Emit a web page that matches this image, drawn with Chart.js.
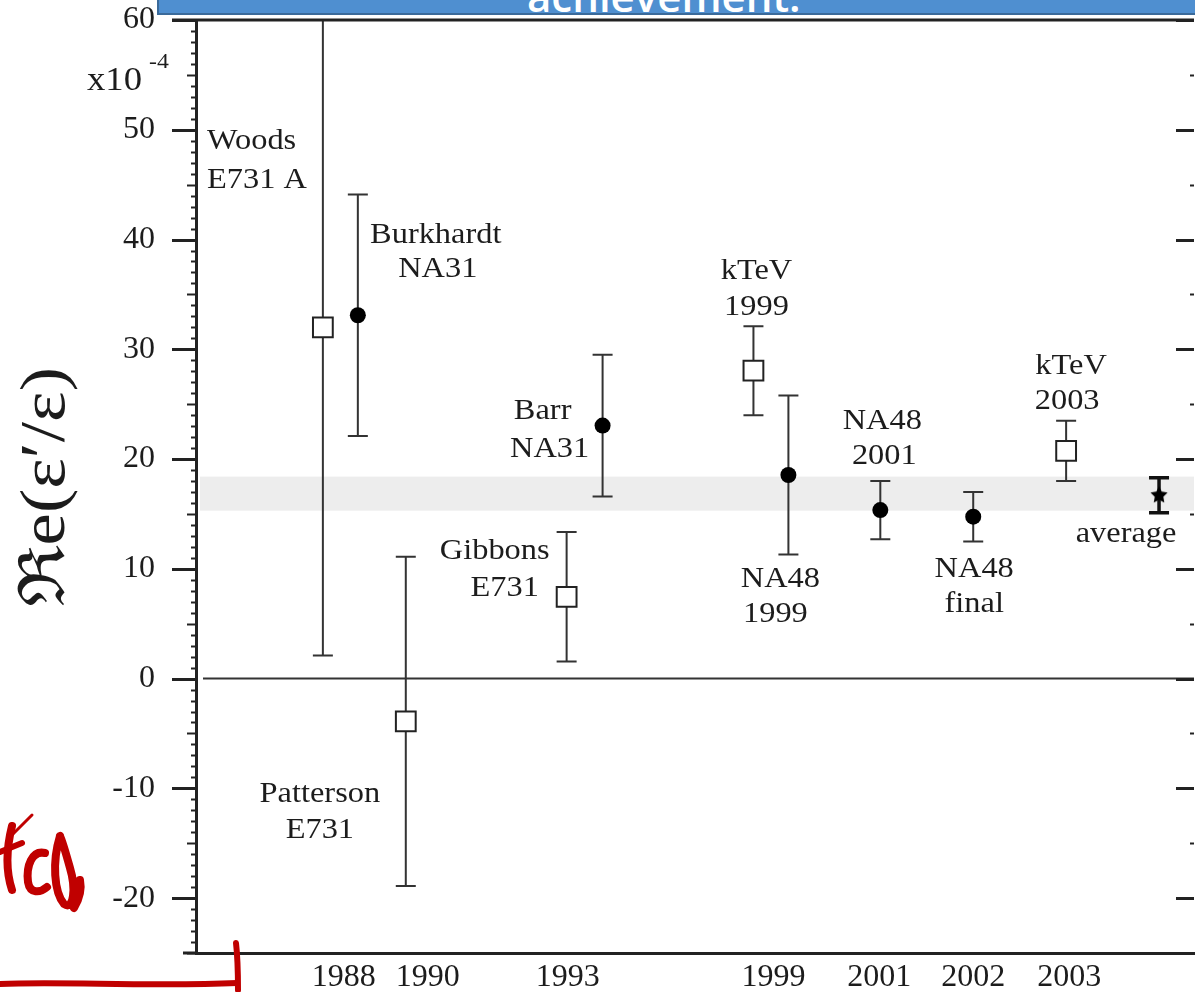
<!DOCTYPE html>
<html>
<head>
<meta charset="utf-8">
<script src="https://cdn.jsdelivr.net/npm/chart.js@4.4.0/dist/chart.umd.min.js"></script>
<style>
  html, body { margin: 0; padding: 0; background: #fff; overflow: hidden; }
  #wrap { position: relative; width: 1195px; height: 992px; overflow: hidden; }
  #chart { display: block; }
  #banner {
    position: absolute; left: 157px; top: -3px; width: 1050px; height: 18px;
    background: #4f8fd0; border: 2px solid #3a6a9a; box-sizing: border-box; overflow: hidden;
  }
  #banner span {
    position: absolute; left: 368px; top: -24px; white-space: nowrap;
    font: 600 42px/42px "Open Sans", sans-serif; color: #fff;
  }
  #ink { position: absolute; left: 0; top: 0; pointer-events: none; }
</style>
</head>
<body>
<div id="wrap">
  <canvas id="chart" width="1210" height="992"></canvas>
  <div id="banner"><span>achievement.</span></div>
  <svg id="ink" width="1195" height="992">
    <g fill="none" stroke="#c00000" stroke-linecap="round" stroke-linejoin="round">
      <path d="M0,984 C60,981 150,987 237,983" stroke-width="6"/>
      <path d="M236,943 C238,960 238,975 238,990" stroke-width="6"/>
      <path d="M32,815 L13,834" stroke-width="3"/>
      <path d="M12,826 C6,850 6,872 12,890" stroke-width="8"/>
      <path d="M0,852 L22,843" stroke-width="6"/>
      <path d="M45,853 C32,850 26,866 28,882 C30,894 40,893 47,887" stroke-width="8"/>
      <path d="M60,836 C52,862 54,892 64,904 C74,911 76,888 70,868 C65,850 62,840 60,836 M74,908 C80,898 82,890 80,880" stroke-width="8"/>
    </g>
  </svg>
</div>
<script>
// measurements, Re(eps'/eps) in units of 1e-4
const names   = ['Woods', 'Burkhardt', 'Patterson', 'Gibbons', 'Barr', 'kTeV', 'NA48', 'NA48', 'NA48', 'kTeV', 'average'];
const subs    = ['E731 A', 'NA31', 'E731', 'E731', 'NA31', '1999', '1999', '2001', 'final', '2003', ''];
const xSlot   = [12.7, 16.2, 21.0, 37.1, 40.7, 55.8, 59.3, 68.5, 77.8, 87.1, 96.4];
const values  = [32.0, 33.1, -3.9, 7.45, 23.05, 28.05, 18.55, 15.35, 14.75, 20.75, 16.7];
const errors  = [29.9, 11.0, 15.0, 5.9, 6.45, 4.05, 7.25, 2.65, 2.25, 2.75, 1.6];
const kinds   = ['open', 'filled', 'open', 'open', 'filled', 'open', 'filled', 'filled', 'filled', 'open', 'star'];

// x axis year labels and where they sit
const yearLabels = ['1988', '1990', '1993', '1999', '2001', '2002', '2003'];
const yearSlots  = [14.8, 23.2, 37.2, 57.8, 68.4, 77.8, 87.4];
const yTicks = [-20, -10, 0, 10, 20, 30, 40, 50, 60];

// world average band
const bandLow = 15.3;
const bandHigh = 18.4;

// where the name labels go (plot units): [x1, y1, x2, y2, align]
const labelPos = [
  [1.1, 49.0, 1.1, 45.4, 'left'],
  [24.0, 40.4, 24.2, 37.3, 'center'],
  [12.4, -10.5, 12.4, -13.8, 'center'],
  [29.9, 11.6, 30.9, 8.2, 'center'],
  [34.7, 24.4, 35.4, 20.9, 'center'],
  [56.1, 37.1, 56.1, 33.8, 'center'],
  [58.5, 9.1, 58.0, 5.9, 'center'],
  [68.7, 23.5, 68.9, 20.3, 'center'],
  [77.9, 10.0, 77.9, 6.8, 'center'],
  [87.6, 28.5, 87.2, 25.3, 'center'],
  [93.1, 13.2, 0, 0, 'center']
];

const serif = '"Liberation Serif", "Times New Roman", "DejaVu Serif", serif';
const ink = '#1c1c1c';

function pick(kind) {
  return xSlot.map((x, i) => kinds[i] === kind ? { x: x, y: values[i] } : null).filter(Boolean);
}

function starImage(r) {
  const c = document.createElement('canvas');
  c.width = c.height = 2 * r + 2;
  const g = c.getContext('2d');
  g.fillStyle = '#000';
  g.beginPath();
  for (let k = 0; k < 10; k++) {
    const rr = k % 2 ? r * 0.5 : r;
    const a = -Math.PI / 2 + k * Math.PI / 5;
    g.lineTo(r + 1 + rr * Math.cos(a), r + 1 + rr * Math.sin(a));
  }
  g.closePath();
  g.fill();
  return c;
}

function wideText(ctx, str, px, py, align) {
  ctx.save();
  ctx.translate(px, py);
  ctx.scale(1.08, 1);
  ctx.textAlign = align;
  ctx.fillText(str, 0, 0);
  ctx.restore();
}

// drop the extra room chart.js reserves for end labels
function noPad(s) {
  s.paddingTop = 0; s.paddingBottom = 0; s.paddingLeft = 0; s.paddingRight = 0;
}

const decor = {
  id: 'decor',
  beforeDatasetsDraw(chart) {
    const { ctx, chartArea: a, scales: { x, y } } = chart;
    ctx.save();
    // grey band
    const b1 = y.getPixelForValue(bandHigh), b2 = y.getPixelForValue(bandLow);
    ctx.fillStyle = '#ededed';
    ctx.fillRect(a.left + 4, b1, a.right - a.left - 4, b2 - b1);
    // zero line
    const y0 = y.getPixelForValue(0);
    ctx.strokeStyle = '#333';
    ctx.lineWidth = 2;
    ctx.beginPath();
    ctx.moveTo(a.left + 7, y0);
    ctx.lineTo(a.right, y0);
    ctx.stroke();
    // error bars
    ctx.beginPath();
    ctx.rect(a.left, a.top, a.width, a.height);
    ctx.clip();
    xSlot.forEach((xs, i) => {
      const px = x.getPixelForValue(xs);
      const top = y.getPixelForValue(values[i] + errors[i]);
      const bot = y.getPixelForValue(values[i] - errors[i]);
      const avg = kinds[i] === 'star';
      const cap = 10;
      ctx.strokeStyle = avg ? '#111' : '#333';
      ctx.lineWidth = avg ? 3.5 : 2;
      ctx.beginPath();
      ctx.moveTo(px, top); ctx.lineTo(px, bot);
      ctx.moveTo(px - cap, top); ctx.lineTo(px + cap, top);
      ctx.moveTo(px - cap, bot); ctx.lineTo(px + cap, bot);
      ctx.stroke();
    });
    ctx.restore();
  },
  afterDraw(chart) {
    const { ctx, chartArea: a, scales: { x, y } } = chart;
    ctx.save();
    ctx.strokeStyle = '#222';
    // left ticks (every unit), right ticks (every 5)
    for (let v = -25; v <= 60; v++) {
      const py = Math.round(y.getPixelForValue(v)) + 0.5;
      const len = v % 10 === 0 ? 24 : (v % 5 === 0 ? 9 : 5);
      ctx.lineWidth = v % 10 === 0 ? 3 : 2;
      ctx.beginPath();
      ctx.moveTo(a.left - len, py);
      ctx.lineTo(a.left, py);
      ctx.stroke();
      if (v % 5 === 0) {
        const rl = v % 10 === 0 ? 18 : 4;
        ctx.beginPath();
        ctx.moveTo(a.right - rl, py);
        ctx.lineTo(a.right, py);
        ctx.stroke();
      }
    }
    // top frame line
    ctx.lineWidth = 3;
    ctx.beginPath();
    ctx.moveTo(a.left - 24, a.top);
    ctx.lineTo(a.right, a.top);
    ctx.stroke();
    // bottom line reaches a bit left
    ctx.beginPath();
    ctx.moveTo(a.left - 13, a.bottom);
    ctx.lineTo(a.left, a.bottom);
    ctx.stroke();

    // names
    ctx.fillStyle = ink;
    ctx.font = '30px ' + serif;
    ctx.textBaseline = 'middle';
    labelPos.forEach((p, i) => {
      wideText(ctx, names[i], x.getPixelForValue(p[0]), y.getPixelForValue(p[1]), p[4]);
      if (subs[i]) wideText(ctx, subs[i], x.getPixelForValue(p[2]), y.getPixelForValue(p[3]), p[4]);
    });

    // exponent note
    ctx.font = '34px ' + serif;
    wideText(ctx, 'x10', 87, 81, 'left');
    ctx.font = '22px ' + serif;
    wideText(ctx, '-4', 149, 62, 'left');

    // axis title
    ctx.font = '64px ' + serif;
    const title = 'ℜe(ε′/ε)';
    const w = ctx.measureText(title).width;
    ctx.translate(47, 487);
    ctx.rotate(-Math.PI / 2);
    ctx.scale(240 / w, 1);
    ctx.textAlign = 'center';
    ctx.fillText(title, 0, 0);
    ctx.restore();
  }
};

new Chart(document.getElementById('chart'), {
  type: 'scatter',
  data: {
    datasets: [
      {
        data: pick('open'),
        pointStyle: 'rect',
        pointRadius: 14,
        backgroundColor: '#fff',
        borderColor: '#222',
        borderWidth: 2
      },
      {
        data: pick('filled'),
        pointStyle: 'circle',
        pointRadius: 8,
        backgroundColor: '#000',
        borderColor: '#000',
        borderWidth: 0
      },
      {
        data: pick('star'),
        pointStyle: starImage(9),
        pointRadius: 9
      }
    ]
  },
  options: {
    responsive: false,
    animation: false,
    layout: { padding: { top: 20, right: 0, left: 0, bottom: 0 } },
    plugins: { legend: { display: false }, tooltip: { enabled: false } },
    scales: {
      x: {
        type: 'linear',
        min: 0,
        max: 99.9,
        grid: { display: false },
        border: { display: true, color: '#222', width: 3 },
        afterBuildTicks: s => { s.ticks = yearSlots.map(v => ({ value: v })); },
        afterFit: s => { s.height = 39; noPad(s); },
        ticks: {
          autoSkip: false,
          maxRotation: 0,
          padding: -3,
          color: ink,
          font: { family: serif, size: 32 },
          callback: (v, i) => yearLabels[i]
        }
      },
      y: {
        min: -25,
        max: 60,
        grid: { display: false },
        border: { display: true, color: '#222', width: 3 },
        afterBuildTicks: s => { s.ticks = yTicks.map(v => ({ value: v })); },
        afterFit: s => { s.width = 196; noPad(s); },
        ticks: {
          padding: 33,
          color: ink,
          font: { family: serif, size: 32 }
        }
      }
    }
  },
  plugins: [decor]
});
</script>
</body>
</html>
